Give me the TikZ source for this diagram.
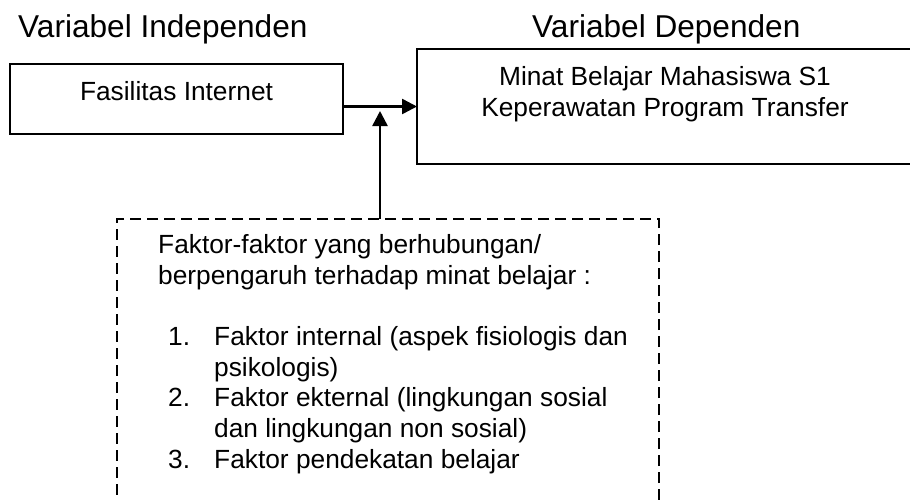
\documentclass[tikz,border=0pt]{standalone}
\usepackage{fontspec}
\setmainfont{Liberation Sans}
\usetikzlibrary{arrows.meta,positioning}

\tikzset{
  varbox/.style={draw, line width=2pt, inner sep=0pt, outer sep=0pt, anchor=north west},
  dashbox/.style={draw, line width=2pt, dash pattern=on 11pt off 6pt, inner sep=0pt, outer sep=0pt, anchor=north west},
  title/.style={font=\fontsize{31.6}{36}\selectfont, inner sep=0pt, anchor=base west},
  body/.style={font=\fontsize{26.3}{30.6}\selectfont, inner sep=0pt},
  link/.style={line width=2.5pt, -{Triangle[length=15pt,width=15pt]}}
}

\begin{document}
\begin{tikzpicture}[x=1pt,y=-1pt] % <- units of one point, y down
   % Page frame
   \useasboundingbox (0,0) rectangle (910,499);
   \clip (0,0) rectangle (910,499);
   % Headings
   \node[title] (indep) at (18,37) {Variabel Independen};
   \node[title] (dep) at (532,37) {Variabel Dependen};
   % Variable boxes (base line of a multi-line node is its last line)
   \node[varbox, body, minimum width=333pt, text height=36pt, text depth=34pt] (internet) at (10,64) {Fasilitas Internet};
   \node[varbox, body, minimum width=496pt, text height=67pt, text depth=48pt, align=center] (minat) at (417,49)
      {Minat Belajar Mahasiswa S1\\Keperawatan Program Transfer};
   % Factor box
   \node[dashbox, minimum width=542pt, minimum height=283pt] (faktor) at (117,219) {};
   \node[body, anchor=base west, align=left] (faktorlist) at (158,468)
      {Faktor-faktor yang berhubungan/\\
       berpengaruh terhadap minat belajar :\\[30.6pt]
       \hspace*{10pt}\makebox[46pt][l]{1.}Faktor internal (aspek fisiologis dan\\
       \hspace*{56pt}psikologis)\\
       \hspace*{10pt}\makebox[46pt][l]{2.}Faktor ekternal (lingkungan sosial\\
       \hspace*{56pt}dan lingkungan non sosial)\\
       \hspace*{10pt}\makebox[46pt][l]{3.}Faktor pendekatan belajar};
   % Arrows
   \coordinate (meet) at (380,111);
   \draw[link] (internet.east |- minat.west) -- (minat.west);
   \draw[link] (faktor.north -| meet) -- (meet);
\end{tikzpicture}
\end{document}
